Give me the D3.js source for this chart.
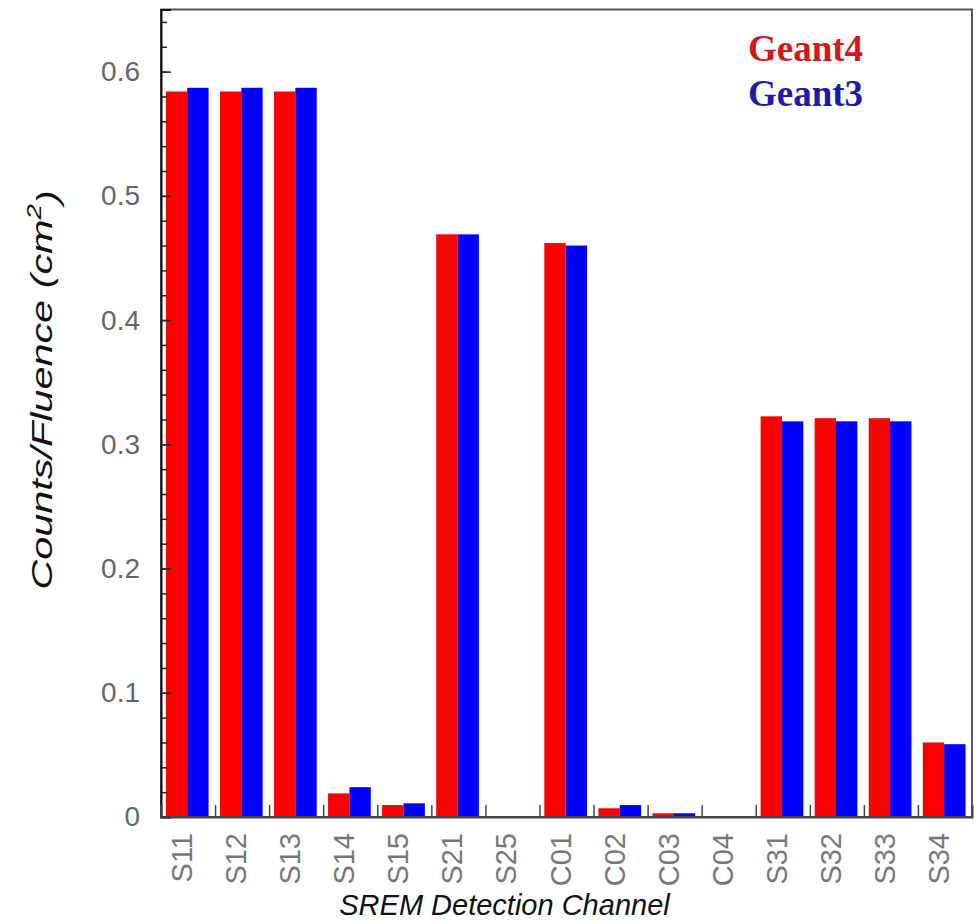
<!DOCTYPE html>
<html>
<head>
<meta charset="utf-8">
<script src="https://cdn.jsdelivr.net/npm/d3@7"></script>
<style>
  html, body { margin: 0; padding: 0; background: #fff; }
  svg { display: block; }
</style>
</head>
<body>
<svg id="chart" width="978" height="924"></svg>
<script>
// SREM detector channels and the response per channel from the two simulations
const categories = ["S11", "S12", "S13", "S14", "S15", "S21", "S25", "C01", "C02", "C03", "C04", "S31", "S32", "S33", "S34"];
const geant4 = [0.584, 0.584, 0.584, 0.019, 0.0096, 0.469, 0, 0.462, 0.007, 0.003, 0, 0.3225, 0.321, 0.321, 0.060];
const geant3 = [0.587, 0.587, 0.587, 0.024, 0.011, 0.469, 0, 0.460, 0.0096, 0.003, 0, 0.3185, 0.3185, 0.3185, 0.0586];
const seriesNames = ["Geant4", "Geant3"];
const seriesColors = ["#ff0000", "#0000ff"];
const legendColors = ["#d0181e", "#1c1ca8"];
const yMajorTicks = [0, 0.1, 0.2, 0.3, 0.4, 0.5, 0.6];
const yMinorTicks = d3.range(0, 0.65, 0.02);
const yTickLabels = ["0", "0.1", "0.2", "0.3", "0.4", "0.5", "0.6"];

const svg = d3.select("#chart");
const plotLeft = 161, plotRight = 972, plotTop = 9.5, plotBottom = 817;

const x = d3.scaleBand().domain(categories).range([plotLeft, plotRight]).padding(0);
const bw = x.bandwidth();
const sub = d3.scaleBand().domain(seriesNames).range([bw * 0.09, bw * 0.88]).padding(0);
const y = d3.scaleLinear().domain([0, 0.65]).range([plotBottom, plotTop]);
const xEdges = d3.scaleLinear().domain([0, categories.length]).range([plotLeft, plotRight]);

// bars
const rows = categories.map((c, i) => ({ c, vals: [geant4[i], geant3[i]] }));
const groups = svg.append("g").selectAll("g").data(rows).join("g")
  .attr("transform", d => `translate(${x(d.c)},0)`);
groups.selectAll("rect")
  .data(d => d.vals.map((v, k) => ({ v, k })))
  .join("rect")
  .attr("x", d => sub(seriesNames[d.k]))
  .attr("width", sub.bandwidth())
  .attr("y", d => y(d.v))
  .attr("height", d => y(0) - y(d.v))
  .attr("fill", d => seriesColors[d.k]);

// frame
svg.append("rect")
  .attr("x", plotLeft).attr("y", plotTop)
  .attr("width", plotRight - plotLeft).attr("height", plotBottom - plotTop)
  .attr("fill", "none").attr("stroke", "#555").attr("stroke-width", 2);

// y axis: minor ticks
svg.append("g").attr("transform", `translate(${plotLeft},0)`)
  .call(d3.axisLeft(y).tickValues(yMinorTicks).tickSize(-6).tickFormat(""))
  .call(g => g.select(".domain").remove())
  .call(g => g.selectAll("line").attr("stroke", "#222").attr("stroke-width", 1.5));

// y axis: major ticks and labels
svg.append("g").attr("transform", `translate(${plotLeft},0)`)
  .call(d3.axisLeft(y).tickValues(yMajorTicks).tickSize(-10).tickPadding(21)
    .tickFormat((d, i) => yTickLabels[i]))
  .call(g => g.select(".domain").attr("stroke", "#111").attr("stroke-width", 2))
  .call(g => g.selectAll("line").attr("stroke", "#222").attr("stroke-width", 1.5))
  .call(g => g.selectAll("text")
    .attr("font-family", "'Liberation Sans', Arial, sans-serif")
    .attr("font-size", 28).attr("fill", "#666"));

// x axis: ticks at channel boundaries
svg.append("g").attr("transform", `translate(0,${plotBottom})`)
  .call(d3.axisBottom(xEdges).tickValues(d3.range(1, categories.length)).tickSize(-12).tickFormat(""))
  .call(g => g.select(".domain").attr("stroke", "#444").attr("stroke-width", 2))
  .call(g => g.selectAll("line").attr("stroke", "#444").attr("stroke-width", 1.5));

// x axis: rotated channel labels
svg.append("g").attr("transform", `translate(0,${plotBottom})`)
  .call(d3.axisBottom(x).tickSize(0).tickPadding(0))
  .call(g => g.select(".domain").remove())
  .call(g => g.selectAll("text")
    .attr("font-family", "'Liberation Sans', Arial, sans-serif")
    .attr("font-size", 29).attr("fill", "#777")
    .attr("text-anchor", "end")
    .attr("transform", "translate(0,16) rotate(-90)")
    .attr("x", 0).attr("y", 0).attr("dy", "4px"));

// axis titles
svg.append("text")
  .attr("x", (plotLeft + plotRight) / 2 - 62).attr("y", 915)
  .attr("text-anchor", "middle")
  .attr("font-family", "'Liberation Sans', Arial, sans-serif")
  .attr("font-style", "italic").attr("font-size", 29).attr("fill", "#111")
  .text("SREM Detection Channel");

const yTitle = svg.append("text")
  .attr("transform", "translate(52,390) rotate(-90) scale(1.38,1)")
  .attr("text-anchor", "middle")
  .attr("font-family", "'Liberation Sans', Arial, sans-serif")
  .attr("font-style", "italic").attr("font-size", 30).attr("fill", "#111");
yTitle.append("tspan").text("Counts/Fluence (cm");
yTitle.append("tspan").attr("dy", "-0.55em").attr("font-size", 20).text("2");
yTitle.append("tspan").attr("dy", "0.55em").text(")");

// legend
const legend = svg.append("g");
seriesNames.forEach((name, i) => {
  legend.append("text")
    .attr("x", 748).attr("y", 61 + i * 45)
    .attr("font-family", "'Liberation Serif', 'Times New Roman', serif")
    .attr("font-weight", "bold").attr("font-size", 37)
    .attr("fill", legendColors[i])
    .text(name);
});
</script>
</body>
</html>
